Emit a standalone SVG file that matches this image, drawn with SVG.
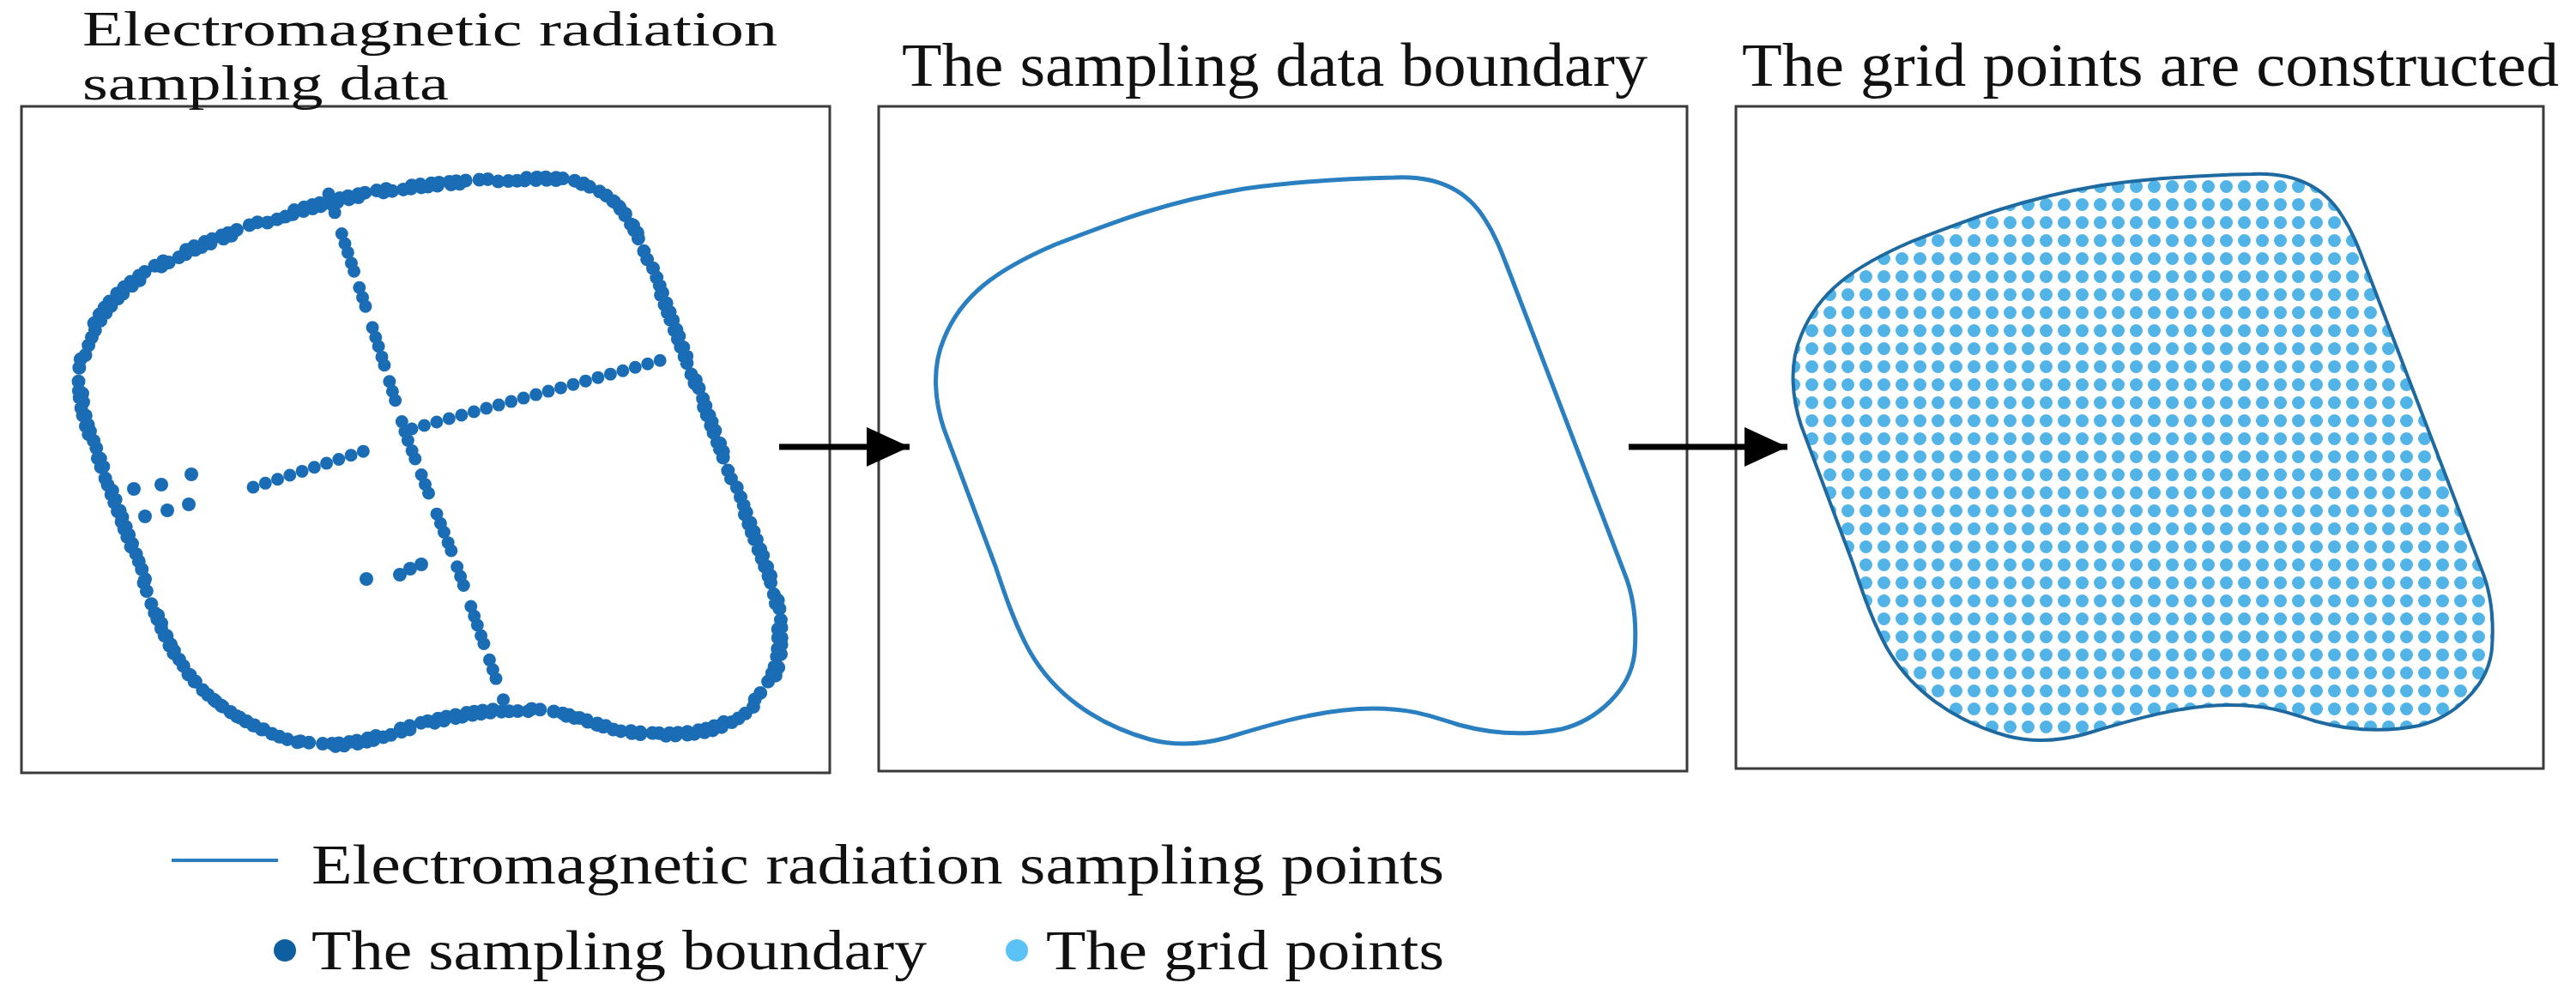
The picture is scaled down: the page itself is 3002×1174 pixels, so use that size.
<svg xmlns="http://www.w3.org/2000/svg" xmlns:xlink="http://www.w3.org/1999/xlink" width="3002" height="1174" viewBox="0 0 3002 1174">
<style>
.frame{fill:#fff;stroke:#3a3a3a;stroke-width:3}
.title{font-family:"Liberation Serif","Times New Roman",serif;font-size:72px;fill:#111}
.title1{font-family:"Liberation Serif","Times New Roman",serif;font-size:56px;fill:#111}
.leg{font-family:"Liberation Serif","Times New Roman",serif;font-size:66px;fill:#111}
.ring{fill:none;stroke:#1a6db5;stroke-width:16;stroke-linecap:round;stroke-dasharray:0 10 0 12 0 8 0 14 0 11 0 30 0 10 0 13 0 9 0 12 0 8 0 11 0 16 0 10 0 45 0 12 0 10 0 9 0 13 0 11}
.line{fill:none;stroke:#1a6db5;stroke-width:15;stroke-linecap:round}
.bound{fill:none;stroke:#2a7fc0;stroke-width:5}
.bound3{fill:none;stroke:#1e6aa0;stroke-width:4}
.arrow{stroke:#000;stroke-width:7;fill:none}
</style>
<defs>
<path id="outline" d="M 1625,207 C 1665,205 1705,215 1730,255 C 1745,278 1752,300 1760,320 L 1893,668 C 1902,690 1908,720 1905,760 C 1901,805 1860,840 1820,850 C 1780,858 1740,856 1700,845 C 1660,832 1640,826 1600,826 C 1540,826 1480,845 1430,860 C 1400,868 1370,870 1340,862 C 1280,845 1225,810 1195,750 C 1180,720 1170,690 1160,660 L 1100,500 C 1090,470 1085,430 1100,395 C 1120,345 1160,315 1230,285 C 1300,258 1360,235 1450,220 C 1520,210 1580,208 1625,207 Z"/>
<clipPath id="clip3"><use xlink:href="#outline" transform="translate(999,-4)"/></clipPath>
<pattern id="grid" x="2080" y="186" width="21" height="21" patternUnits="userSpaceOnUse"><circle cx="10.5" cy="10.5" r="7.5" fill="#52b3e6"/></pattern>
<marker id="head" markerUnits="userSpaceOnUse" markerWidth="52" markerHeight="46" refX="50" refY="23" orient="auto"><path d="M0,0 L50,23 L0,46 Z" fill="#000"/></marker>
</defs>

<g id="panel1">
<rect class="frame" x="25" y="124" width="942" height="777"/>
<text class="title1"><tspan x="96" y="53" textLength="810" lengthAdjust="spacingAndGlyphs">Electromagnetic radiation</tspan><tspan x="96" y="116" textLength="427" lengthAdjust="spacingAndGlyphs">sampling data</tspan></text>
<use xlink:href="#outline" class="ring" transform="translate(-999,0)"/>
<use xlink:href="#outline" class="ring" style="stroke-dashoffset:37" transform="translate(-995,3)"/>
<path class="line" style="stroke-dasharray:0 12 0 11 0 26 0 12 0 11 0 13 0 10 0 20" d="M 383,226 L 440,400 L 474,510 L 529,650 L 587,817"/>
<path class="line" style="stroke-dasharray:0 15" d="M 480,500 L 770,420"/>
<path class="line" style="stroke-dasharray:0 15" d="M 295,568 L 436,522"/>
<g fill="#1a6db5">
<circle cx="156" cy="570" r="8"/><circle cx="188" cy="565" r="8"/><circle cx="223" cy="553" r="8"/>
<circle cx="169" cy="602" r="8"/><circle cx="195" cy="595" r="8"/><circle cx="220" cy="588" r="8"/>
<circle cx="427" cy="675" r="8"/><circle cx="466" cy="670" r="8"/><circle cx="478" cy="663" r="8"/><circle cx="491" cy="658" r="8"/>
</g>
</g>

<g id="panel2">
<rect class="frame" x="1024" y="124" width="942" height="775"/>
<text class="title" x="1051" y="100" textLength="869" lengthAdjust="spacingAndGlyphs">The sampling data boundary</text>
<use xlink:href="#outline" class="bound"/>
</g>

<g id="panel3">
<rect class="frame" x="2023" y="124" width="941" height="772"/>
<text class="title" x="2030" y="100" textLength="952" lengthAdjust="spacingAndGlyphs">The grid points are constructed</text>
<rect x="2060" y="180" width="880" height="700" fill="url(#grid)" clip-path="url(#clip3)"/>
<use xlink:href="#outline" class="bound3" transform="translate(999,-4)"/>
</g>

<g id="connectors">
<line class="arrow" x1="908" y1="521" x2="1060" y2="521" marker-end="url(#head)"/>
<line class="arrow" x1="1898" y1="521" x2="2083" y2="521" marker-end="url(#head)"/>
</g>

<g id="legend">
<line x1="200" y1="1003" x2="324" y2="1003" stroke="#2a7fc0" stroke-width="4"/>
<text class="leg" x="363" y="1030" textLength="1320" lengthAdjust="spacingAndGlyphs">Electromagnetic radiation sampling points</text>
<circle cx="332" cy="1108" r="13" fill="#0e5fa0"/>
<text class="leg" x="363" y="1130" textLength="717" lengthAdjust="spacingAndGlyphs">The sampling boundary</text>
<circle cx="1185" cy="1108" r="13" fill="#5bc2f5"/>
<text class="leg" x="1219" y="1130" textLength="464" lengthAdjust="spacingAndGlyphs">The grid points</text>
</g>
</svg>
